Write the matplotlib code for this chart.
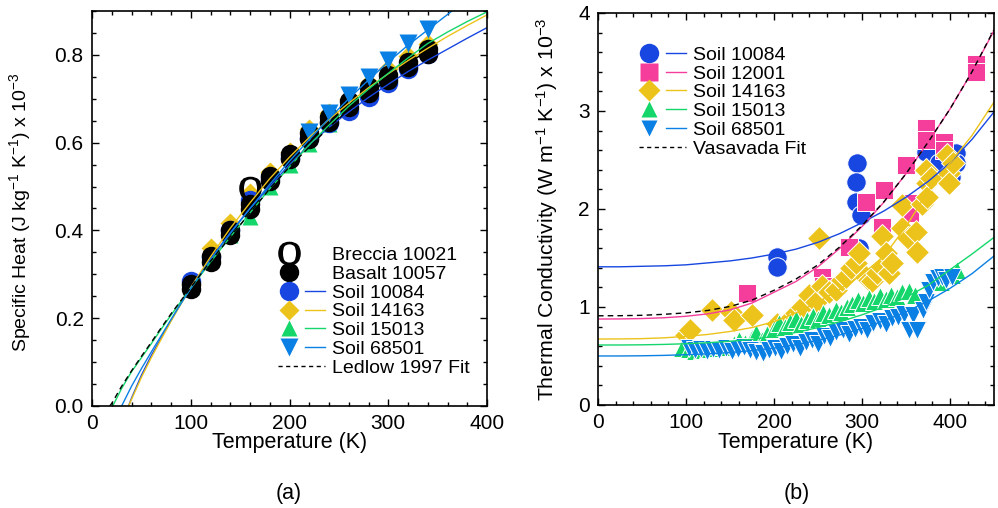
"""Lunar sample specific heat (a) and thermal conductivity (b) vs temperature."""

import matplotlib
matplotlib.use("Agg")
import matplotlib.pyplot as plt
from matplotlib.lines import Line2D
from matplotlib.legend_handler import HandlerTuple
from matplotlib.ticker import MultipleLocator

plt.rcParams['font.family'] = ['Liberation Sans', 'DejaVu Sans']
plt.rcParams['mathtext.fontset'] = 'custom'
plt.rcParams['mathtext.rm'] = 'Liberation Sans'
plt.rcParams['mathtext.it'] = 'Liberation Sans:italic'
plt.rcParams['mathtext.tt'] = 'Liberation Serif'

# ============================================================================
# COLOURS
# ============================================================================
C_10084 = '#1747e0'
C_12001 = '#f53d9b'
C_14163 = '#ecc31b'
C_15013 = '#14d66b'
C_68501 = '#0a80e4'

# ============================================================================
# PANEL (a) DATA - specific heat x 1e-3 (J/kg/K)
# ============================================================================
cp_T = [100, 120, 140, 160, 180, 200, 220, 240, 260, 280, 300, 320, 340]
basalt_hi = [0.279, 0.342, 0.401, 0.461, 0.524, 0.574, 0.621, 0.659, 0.694, 0.726, 0.754, 0.784, 0.814]
basalt_lo = [0.266, 0.328, 0.389, 0.449, 0.512, 0.562, 0.609, 0.647, 0.682, 0.714, 0.742, 0.772, 0.802]
soil10084_cp = [0.284, 0.340, 0.400, 0.470, 0.520, 0.565, 0.610, 0.645, 0.672, 0.705, 0.735, 0.768, 0.802]
soil14163_cp = [0.276, 0.360, 0.417, 0.485, 0.533, 0.579, 0.630, 0.668, 0.700, 0.735, 0.768, 0.798, 0.825]
soil15013_cp = [0.270, 0.335, 0.390, 0.431, 0.500, 0.550, 0.597, 0.643, 0.685, 0.723, 0.758, 0.790, 0.820]

breccia_T = [160]
breccia_cp = [0.497]

soil68501_T = [220, 240, 260, 280, 300, 320, 340]
soil68501_cp = [0.625, 0.668, 0.709, 0.750, 0.789, 0.827, 0.860]

# fit curves
fit10084_T = [37, 40, 50, 60, 70, 80, 90, 100, 120, 140, 160, 180, 200, 220, 240,
              260, 280, 300, 320, 340, 360, 380, 400]
fit10084_cp = [0.0, 0.018, 0.070, 0.115, 0.155, 0.195, 0.235, 0.270, 0.335, 0.395,
               0.450, 0.500, 0.550, 0.595, 0.635, 0.670, 0.703, 0.733, 0.762, 0.788,
               0.813, 0.838, 0.862]
fit14163_T = [37, 40, 50, 60, 70, 80, 90, 100, 120, 140, 160, 180, 200, 220, 240,
              260, 280, 300, 320, 340, 360, 380, 400]
fit14163_cp = [0.0, 0.015, 0.065, 0.110, 0.152, 0.193, 0.232, 0.270, 0.340, 0.405,
               0.463, 0.518, 0.567, 0.612, 0.653, 0.690, 0.725, 0.757, 0.787, 0.815,
               0.842, 0.867, 0.891]
fit15013_T = [21, 30, 40, 50, 60, 70, 80, 90, 100, 120, 140, 160, 180, 200, 220, 240,
              260, 280, 300, 320, 340, 360, 380, 400]
fit15013_cp = [0.0, 0.040, 0.078, 0.110, 0.142, 0.175, 0.207, 0.238, 0.268, 0.328,
               0.385, 0.440, 0.495, 0.545, 0.595, 0.640, 0.683, 0.722, 0.758, 0.793,
               0.826, 0.852, 0.876, 0.898]
fit68501_T = [30, 40, 50, 60, 70, 80, 90, 100, 120, 140, 160, 180, 200, 220, 240,
              260, 280, 300, 320, 340, 360, 370]
fit68501_cp = [0.0, 0.045, 0.085, 0.123, 0.160, 0.197, 0.233, 0.268, 0.333, 0.393,
               0.450, 0.505, 0.558, 0.607, 0.655, 0.700, 0.743, 0.784, 0.822, 0.857,
               0.892, 0.910]
ledlow_T = [18, 20, 30, 40, 50, 60, 70, 80, 90, 100, 120, 140, 160, 180, 200, 220,
            240, 260, 280, 300, 320, 340]
ledlow_cp = [0.0, 0.006, 0.045, 0.080, 0.113, 0.145, 0.178, 0.210, 0.240, 0.270,
             0.330, 0.385, 0.440, 0.495, 0.545, 0.590, 0.635, 0.675, 0.710, 0.745,
             0.780, 0.810]

# ============================================================================
# PANEL (b) DATA - thermal conductivity x 1e-3 (W/m/K)
# ============================================================================
k10084_T = [203, 203, 294, 293, 293, 299, 297, 373, 388, 407, 407, 401]
k10084_k = [1.51, 1.41, 2.47, 2.28, 2.07, 1.94, 1.60, 2.58, 2.47, 2.57, 2.47, 2.33]

k12001_T = [169, 255, 256, 285, 304, 325, 323, 350, 355, 355, 373, 373, 393, 393, 430, 430]
k12001_k = [1.14, 1.31, 1.21, 1.61, 2.07, 2.19, 1.82, 2.45, 2.06, 1.96, 2.83, 2.70,
            2.68, 2.60, 3.48, 3.40]

k14163_T = [100, 105, 130, 151, 155, 175, 203, 217, 225, 232, 240, 248, 251, 255, 262,
            270, 277, 282, 288, 293, 297, 304, 308, 311, 317, 323, 323, 327, 331, 334,
            346, 346, 352, 361, 363, 368, 373, 374, 374, 378, 397, 399, 399, 403]
k14163_k = [0.71, 0.77, 0.97, 0.95, 0.87, 0.92, 0.83, 0.87, 0.94, 1.00, 1.12, 1.05,
            1.70, 1.21, 1.15, 1.17, 1.28, 1.31, 1.40, 1.45, 1.55, 1.31, 1.28, 1.26,
            1.35, 1.41, 1.72, 1.55, 1.35, 1.45, 1.81, 2.04, 1.70, 1.76, 1.56, 2.05,
            2.40, 2.26, 2.12, 2.32, 2.55, 2.37, 2.26, 2.47]

k15013_T = [96, 103, 110, 118, 125, 133, 140, 147, 154, 160, 167, 175, 180, 186, 192,
            200, 206, 212, 218, 225, 231, 238, 244, 250, 256, 263, 270, 276, 283, 289,
            295, 301, 308, 314, 320, 327, 333, 340, 346, 353, 360, 390, 402, 408]
k15013_k = [0.58, 0.57, 0.55, 0.56, 0.57, 0.58, 0.60, 0.59, 0.62, 0.66, 0.63, 0.68,
            0.73, 0.66, 0.72, 0.78, 0.84, 0.80, 0.85, 0.88, 0.83, 0.87, 0.91, 0.88,
            0.94, 0.92, 0.97, 0.95, 1.00, 1.03, 1.07, 1.04, 1.09, 1.06, 1.11, 1.08,
            1.12, 1.10, 1.15, 1.16, 1.12, 1.25, 1.33, 1.38]

k68501_T = [103, 110, 117, 124, 131, 138, 145, 152, 159, 166, 173, 180, 187, 194, 201,
            208, 215, 222, 229, 236, 243, 250, 257, 264, 271, 278, 285, 292, 299, 306,
            313, 320, 327, 334, 341, 348, 353, 358, 363, 369, 373, 376, 381, 386, 391,
            396, 402]
k68501_k = [0.58, 0.56, 0.57, 0.55, 0.57, 0.56, 0.58, 0.55, 0.57, 0.59, 0.56, 0.54,
            0.53, 0.56, 0.58, 0.55, 0.60, 0.62, 0.58, 0.64, 0.66, 0.62, 0.70, 0.68,
            0.74, 0.76, 0.72, 0.78, 0.80, 0.77, 0.84, 0.86, 0.83, 0.89, 0.90, 0.93,
            0.76, 0.92, 0.76, 0.97, 1.05, 1.17, 1.25, 1.30, 1.31, 1.28, 1.31]

# fit curves
kfit_T = [0, 25, 50, 75, 100, 125, 150, 175, 200, 225, 250, 275, 300, 325, 350, 375,
          400, 425, 450]
kfit_10084 = [1.41, 1.41, 1.415, 1.42, 1.43, 1.45, 1.47, 1.50, 1.54, 1.59, 1.66, 1.75,
              1.86, 1.98, 2.12, 2.28, 2.47, 2.71, 2.99]
kfit_12001 = [0.877, 0.878, 0.882, 0.89, 0.905, 0.93, 0.97, 1.04, 1.15, 1.26, 1.41,
              1.60, 1.82, 2.07, 2.36, 2.68, 3.02, 3.40, 3.82]
kfit_14163 = [0.673, 0.674, 0.677, 0.685, 0.70, 0.72, 0.75, 0.79, 0.85, 0.94, 1.05,
              1.18, 1.33, 1.52, 1.82, 2.18, 2.47, 2.75, 3.09]
kfit_15013 = [0.612, 0.612, 0.614, 0.618, 0.625, 0.635, 0.65, 0.67, 0.70, 0.74, 0.79,
              0.85, 0.92, 1.00, 1.10, 1.22, 1.38, 1.54, 1.71]
kfit_68501 = [0.50, 0.50, 0.502, 0.506, 0.513, 0.522, 0.535, 0.555, 0.58, 0.615, 0.66,
              0.715, 0.78, 0.86, 0.95, 1.06, 1.19, 1.34, 1.52]
vasavada_k = [0.91, 0.911, 0.915, 0.925, 0.94, 0.965, 1.005, 1.07, 1.17, 1.285, 1.43,
              1.615, 1.83, 2.075, 2.36, 2.68, 3.02, 3.40, 3.83]

# ============================================================================
# FIGURE
# ============================================================================
fig = plt.figure(figsize=(9.98, 5.08), dpi=100)
ax1 = fig.add_axes([0.0922, 0.2008, 0.3958, 0.7776])
ax2 = fig.add_axes([0.5992, 0.2028, 0.3968, 0.7717])

TICK_FS = 15
LABEL_FS = 15.5
LEG_FS = 14


def style_axes(ax):
    ax.tick_params(which='both', direction='in', top=True, right=True,
                   labelsize=TICK_FS, width=1.0, pad=6)
    ax.tick_params(which='major', length=5)
    ax.tick_params(which='minor', length=3)
    for sp in ax.spines.values():
        sp.set_linewidth(1.2)


# ---- panel (a) ----
ms_a = 14
ax1.plot(cp_T, soil14163_cp, 'D', color=C_14163, ms=10.5, mec='none')
ax1.plot(cp_T, soil15013_cp, '^', color=C_15013, ms=12, mec='none')
ax1.plot(cp_T, soil10084_cp, 'o', color=C_10084, ms=ms_a, mec='none')
ax1.plot(cp_T, basalt_hi, 'o', color='black', ms=ms_a, mec='none')
ax1.plot(cp_T, basalt_lo, 'o', color='black', ms=ms_a, mec='none')
ax1.plot(soil68501_T, soil68501_cp, 'v', color=C_68501, ms=13, mec='none')
ax1.plot(breccia_T, breccia_cp, marker=r'$\mathtt{O}$', ls='none', color='black', ms=16)

ax1.plot(fit10084_T, fit10084_cp, '-', color=C_10084, lw=1.0)
ax1.plot(fit14163_T, fit14163_cp, '-', color=C_14163, lw=1.0)
ax1.plot(fit15013_T, fit15013_cp, '-', color=C_15013, lw=1.0)
ax1.plot(fit68501_T, fit68501_cp, '-', color=C_68501, lw=1.0)
ax1.plot(ledlow_T, ledlow_cp, '--', color='black', lw=1.0, dashes=(4, 3))

ax1.set_xlim(0, 400)
ax1.set_ylim(0, 0.9)
ax1.xaxis.set_major_locator(MultipleLocator(100))
ax1.xaxis.set_minor_locator(MultipleLocator(20))
ax1.yaxis.set_major_locator(MultipleLocator(0.2))
ax1.yaxis.set_minor_locator(MultipleLocator(0.05))
ax1.yaxis.set_major_formatter(lambda v, p: f"{v:.1f}")
style_axes(ax1)
ax1.set_xlabel('Temperature (K)', fontsize=LABEL_FS)
ax1.set_ylabel(r'Specific Heat (J kg$^{-1}$ K$^{-1}$) x 10$^{-3}$', fontsize=14)
ax1.xaxis.set_label_coords(0.5, -0.066)
ax1.yaxis.set_label_coords(-0.149, 0.49)


def mk(marker, color, ms):
    return Line2D([], [], marker=marker, ls='none', color=color, ms=ms, mec='none')


def ln(color):
    return Line2D([], [], color=color, lw=1.0)


blank = Line2D([], [], ls='none')
h_a = [(Line2D([], [], marker=r'$\mathtt{O}$', ls='none', color='black', ms=16), blank),
       (mk('o', 'black', 14), blank),
       (mk('o', C_10084, 14), ln(C_10084)),
       (mk('D', C_14163, 10.5), ln(C_14163)),
       (mk('^', C_15013, 12), ln(C_15013)),
       (mk('v', C_68501, 13), ln(C_68501)),
       Line2D([], [], color='black', ls='--', lw=1.0, dashes=(3, 2.5))]
lab_a = ['Breccia 10021', 'Basalt 10057', 'Soil 10084', 'Soil 14163', 'Soil 15013',
         'Soil 68501', 'Ledlow 1997 Fit']
ax1.legend(h_a, lab_a, loc='lower right', bbox_to_anchor=(1.0, 0.03), frameon=False,
           fontsize=LEG_FS, handlelength=2.4, handletextpad=0.35, labelspacing=0.06,
           handler_map={tuple: HandlerTuple(ndivide=None, pad=0.3)})

# ---- panel (b) ----
mew_b = 0.7
ax2.plot(k10084_T, k10084_k, 'o', color=C_10084, ms=14, mec='white', mew=mew_b)
ax2.plot(k12001_T, k12001_k, 's', color=C_12001, ms=13.5, mec='white', mew=mew_b)
ax2.plot(k14163_T, k14163_k, 'D', color=C_14163, ms=12.5, mec='white', mew=mew_b)
ax2.plot(k15013_T, k15013_k, '^', color=C_15013, ms=13.5, mec='white', mew=mew_b)
ax2.plot(k68501_T, k68501_k, 'v', color=C_68501, ms=13.5, mec='white', mew=mew_b)

ax2.plot(kfit_T, kfit_10084, '-', color=C_10084, lw=1.0)
ax2.plot(kfit_T, kfit_12001, '-', color=C_12001, lw=1.0)
ax2.plot(kfit_T, kfit_14163, '-', color=C_14163, lw=1.0)
ax2.plot(kfit_T, kfit_15013, '-', color=C_15013, lw=1.0)
ax2.plot(kfit_T, kfit_68501, '-', color=C_68501, lw=1.0)
ax2.plot(kfit_T, vasavada_k, '--', color='black', lw=1.0, dashes=(4, 3))

ax2.set_xlim(0, 450)
ax2.set_ylim(0, 4)
ax2.xaxis.set_major_locator(MultipleLocator(100))
ax2.xaxis.set_minor_locator(MultipleLocator(20))
ax2.yaxis.set_major_locator(MultipleLocator(1))
ax2.yaxis.set_minor_locator(MultipleLocator(0.2))
style_axes(ax2)
ax2.set_xlabel('Temperature (K)', fontsize=LABEL_FS)
ax2.set_ylabel(r'Thermal Conductivity (W m$^{-1}$ K$^{-1}$) x 10$^{-3}$', fontsize=15.3)
ax2.xaxis.set_label_coords(0.5, -0.069)
ax2.yaxis.set_label_coords(-0.096, 0.5)

h_b = [(mk('o', C_10084, 14), ln(C_10084)),
       (mk('s', C_12001, 12.5), ln(C_12001)),
       (mk('D', C_14163, 11), ln(C_14163)),
       (mk('^', C_15013, 12), ln(C_15013)),
       (mk('v', C_68501, 12), ln(C_68501)),
       Line2D([], [], color='black', ls='--', lw=1.0, dashes=(3, 2.5))]
lab_b = ['Soil 10084', 'Soil 12001', 'Soil 14163', 'Soil 15013', 'Soil 68501',
         'Vasavada Fit']
ax2.legend(h_b, lab_b, loc='upper left', bbox_to_anchor=(0.06, 0.96), frameon=False,
           fontsize=LEG_FS, handlelength=2.4, handletextpad=0.35, labelspacing=0.06,
           handler_map={tuple: HandlerTuple(ndivide=None, pad=0.3)})

fig.text(0.2896, 0.0295, '(a)', ha='center', va='center', fontsize=LABEL_FS)
fig.text(0.7986, 0.0295, '(b)', ha='center', va='center', fontsize=LABEL_FS)

fig.savefig('out.png', dpi=100)
